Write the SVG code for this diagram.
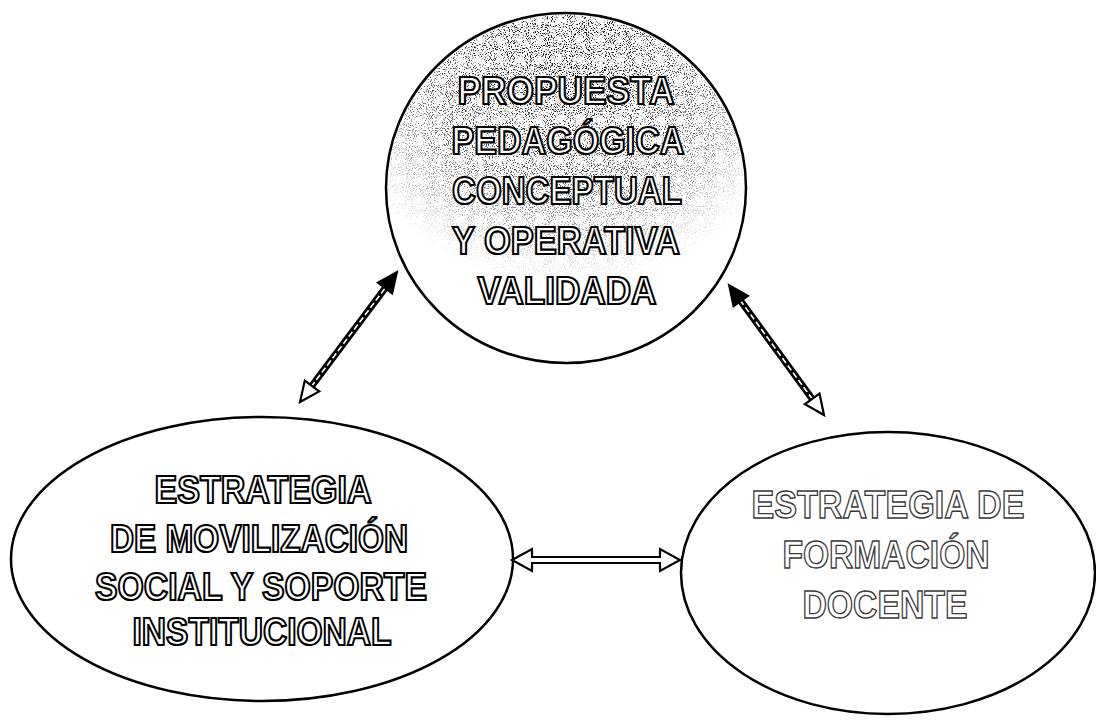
<svg xmlns="http://www.w3.org/2000/svg" width="1096" height="723" viewBox="0 0 1096 723">
<style>
  .node { fill: #ffffff; stroke: #000000; stroke-width: 2.5; }
  .lbl { font-family: "Liberation Sans", Arial, sans-serif; font-weight: bold; font-size: 38px; fill: #ffffff; stroke: #000000; stroke-width: 2.2; text-anchor: middle; }
  .faint { stroke: #3a3a3a; stroke-width: 1.4; }
  .shaft { stroke: #000000; stroke-width: 7; stroke-linecap: butt; fill: none; }
  .shaft-in { stroke: #ffffff; stroke-width: 1.6; stroke-dasharray: 6 3; fill: none; }
  .head-solid { fill: #000000; stroke: #000000; stroke-width: 2; stroke-linejoin: miter; }
  .head-open { fill: #ffffff; stroke: #000000; stroke-width: 2.2; stroke-linejoin: miter; }
</style>
<defs>
  <radialGradient id="fade" gradientUnits="userSpaceOnUse" cx="566" cy="40" r="260" fx="566" fy="40">
    <stop offset="0" stop-color="#ffffff"/>
    <stop offset="0.55" stop-color="#aaaaaa"/>
    <stop offset="0.95" stop-color="#000000"/>
  </radialGradient>
  <mask id="fadeMask" maskUnits="userSpaceOnUse" x="380" y="10" width="372" height="360">
    <rect x="380" y="10" width="372" height="360" fill="url(#fade)"/>
  </mask>
  <filter id="grain" x="0" y="0" width="1" height="1" filterUnits="objectBoundingBox">
    <feTurbulence type="fractalNoise" baseFrequency="0.95" numOctaves="2" seed="7" result="n"/>
    <feColorMatrix in="n" type="matrix" values="0 0 0 0 0  0 0 0 0 0  0 0 0 0 0  8 0 0 0 -4.4" result="dots"/>
    <feComposite in="dots" in2="SourceGraphic" operator="in"/>
  </filter>
</defs>
<rect width="1096" height="723" fill="#ffffff"/>

<g id="node-propuesta">
  <ellipse class="node" cx="566" cy="188" rx="180" ry="175"/>
  <ellipse cx="566" cy="188" rx="178" ry="173" fill="#ffffff" filter="url(#grain)" mask="url(#fadeMask)"/>
  <text class="lbl" x="566" y="104" textLength="217" lengthAdjust="spacingAndGlyphs">PROPUESTA</text>
  <text class="lbl" x="568" y="154" textLength="233" lengthAdjust="spacingAndGlyphs">PEDAGÓGICA</text>
  <text class="lbl" x="567" y="204" textLength="230" lengthAdjust="spacingAndGlyphs">CONCEPTUAL</text>
  <text class="lbl" x="566" y="254" textLength="228" lengthAdjust="spacingAndGlyphs">Y OPERATIVA</text>
  <text class="lbl" x="567" y="304" textLength="179" lengthAdjust="spacingAndGlyphs">VALIDADA</text>
</g>

<g id="node-movilizacion">
  <ellipse class="node" cx="262" cy="559" rx="251" ry="142"/>
  <text class="lbl" x="263" y="503" textLength="217" lengthAdjust="spacingAndGlyphs">ESTRATEGIA</text>
  <text class="lbl" x="259" y="552" textLength="298" lengthAdjust="spacingAndGlyphs">DE MOVILIZACIÓN</text>
  <text class="lbl" x="261" y="600" textLength="332" lengthAdjust="spacingAndGlyphs">SOCIAL Y SOPORTE</text>
  <text class="lbl" x="262" y="645" textLength="259" lengthAdjust="spacingAndGlyphs">INSTITUCIONAL</text>
</g>

<g id="node-formacion">
  <ellipse class="node" cx="888" cy="573" rx="207" ry="141"/>
  <text class="lbl faint" x="888" y="518" textLength="273" lengthAdjust="spacingAndGlyphs">ESTRATEGIA DE</text>
  <text class="lbl faint" x="886" y="568" textLength="207" lengthAdjust="spacingAndGlyphs">FORMACIÓN</text>
  <text class="lbl faint" x="885" y="618" textLength="165" lengthAdjust="spacingAndGlyphs">DOCENTE</text>
</g>

<g id="connectors">
  <!-- left diagonal -->
  <line class="shaft" x1="311" y1="387" x2="386" y2="287"/>
  <line class="shaft-in" x1="311" y1="387" x2="386" y2="287"/>
  <polygon class="head-solid" points="397,272 392.2,293.4 377.8,282.6"/>
  <polygon class="head-open" points="300,402 319.2,391.4 304.8,380.6"/>
  <!-- right diagonal -->
  <line class="shaft" x1="740" y1="300" x2="813" y2="400"/>
  <line class="shaft-in" x1="740" y1="300" x2="813" y2="400"/>
  <polygon class="head-solid" points="729,285 748.1,295.8 733.5,306.4"/>
  <polygon class="head-open" points="824,415 819.5,393.6 804.9,404.2"/>
  <!-- horizontal -->
  <polygon class="head-open" points="512,560 532,549 532,557 660,557 660,549 680,560 660,571 660,563 532,563 532,571"/>
</g>
</svg>
